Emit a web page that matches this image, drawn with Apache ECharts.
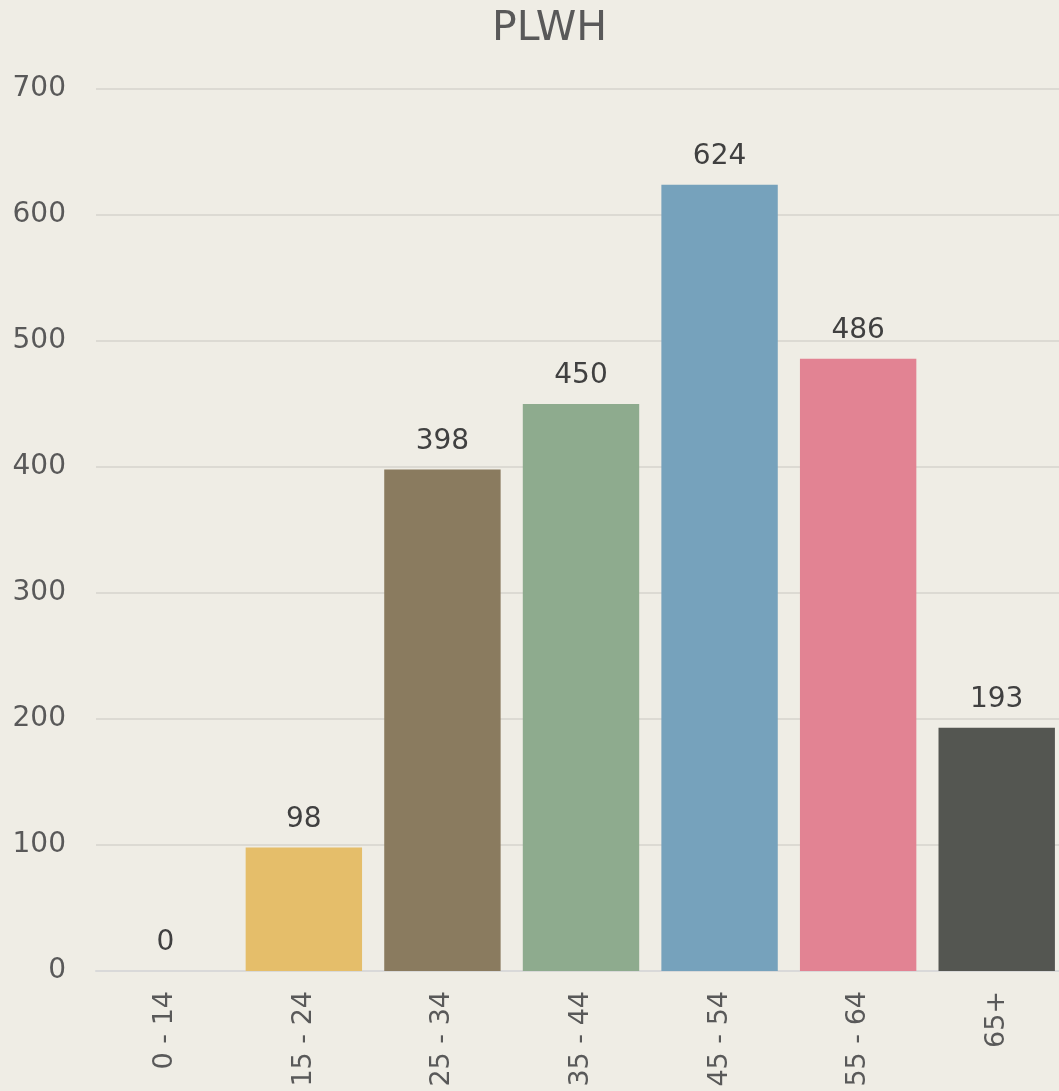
<!DOCTYPE html>
<html>
<head>
<meta charset="utf-8">
<script src="https://cdn.jsdelivr.net/npm/echarts@6/dist/echarts.min.js"></script>
<style>
  html, body { margin: 0; padding: 0; background: #efede5; }
  #main { width: 1059px; height: 1091px; }
</style>
</head>
<body>
<div id="main"></div>
<script>
var ageGroups = ['0 - 14', '15 - 24', '25 - 34', '35 - 44', '45 - 54', '55 - 64', '65+'];
var plwhCounts = [0, 98, 398, 450, 624, 486, 193];
var barColors = ['#e5be6a', '#e5be6a', '#8a7b5f', '#8eab8e', '#76a2bc', '#e28393', '#545651'];

var myChart = echarts.init(document.getElementById('main'));
myChart.setOption({
    backgroundColor: '#efede5',
    textStyle: { fontFamily: 'DejaVu Sans' },
    title: {
        text: 'PLWH',
        left: 487,
        top: 4,
        textStyle: { fontSize: 41, fontWeight: 'normal', color: '#595959', fontFamily: 'DejaVu Sans' }
    },
    grid: { left: 96, right: -7, top: 89, bottom: 120, containLabel: false, outerBoundsMode: 'none' },
    xAxis: {
        type: 'category',
        data: ageGroups,
        axisLine: { lineStyle: { color: '#d9d9d9', width: 2 } },
        axisTick: { length: 10, lineStyle: { color: '#d9d9d9', width: 2 } },
        axisLabel: { rotate: 90, margin: 20, fontSize: 27, color: '#595959' }
    },
    yAxis: {
        type: 'value',
        min: 0,
        max: 700,
        interval: 100,
        axisLine: { show: false },
        axisTick: { show: false },
        splitLine: { lineStyle: { color: '#dcdad3', width: 2 } },
        axisLabel: { margin: 30, fontSize: 28, color: '#595959' }
    },
    series: [{
        name: 'PLWH',
        type: 'bar',
        barCategoryGap: '16%',
        data: plwhCounts.map(function (v, i) {
            return { value: v, itemStyle: { color: barColors[i] } };
        }),
        label: {
            show: true,
            position: 'top',
            distance: 14,
            fontSize: 28,
            color: '#404040'
        }
    }]
});
</script>
</body>
</html>
